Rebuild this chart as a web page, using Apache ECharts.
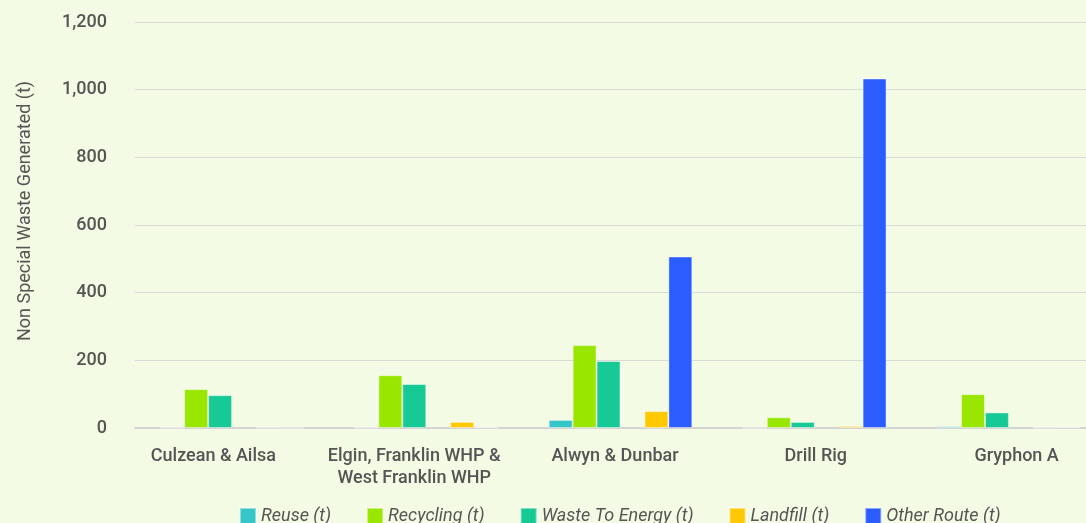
<!DOCTYPE html>
<html><head><meta charset="utf-8">
<script src="https://cdn.jsdelivr.net/npm/echarts@6/dist/echarts.min.js"></script>
<style>html,body{margin:0;padding:0;background:#f3fbe4;}#c{width:1086px;height:523px;}</style>
</head><body><div id="c"></div>
<script>
const categories = ['Culzean & Ailsa', 'Elgin, Franklin WHP & West Franklin WHP', 'Alwyn & Dunbar', 'Drill Rig', 'Gryphon A'];
const reuse = [1, 1, 24, 0, 5];
const recycling = [115, 156, 245, 32, 100];
const wasteToEnergy = [97, 130, 198, 18, 46];
const spacer = [null, null, null, null, null];
const landfill = [1, 18, 50, 6, 1];
const otherRoute = [0, 2, 507, 1033, 2];
const yTicks = [0, 200, 400, 600, 800, 1000, 1200];

const font = 'Roboto, "Noto Sans", sans-serif';
const txt = '#555555';
function bar(name, data, color) {
  return { name, type: 'bar', data, xAxisIndex: 0, yAxisIndex: 0,
    barGap: '0%', barCategoryGap: '26%',
    itemStyle: { color, borderColor: 'rgba(255,255,255,0.45)', borderWidth: 1 } };
}
const chart = echarts.init(document.getElementById('c'));
chart.setOption({
  backgroundColor: '#f3fbe4',
  animation: false,
  textStyle: { fontFamily: font },
  grid: [
    { left: 135, width: 971, top: 22, bottom: 95, outerBoundsMode: 'none', containLabel: false },
    { left: 113, width: 1004, top: 22, bottom: 95, outerBoundsMode: 'none', containLabel: false }
  ],
  legend: {
    left: 234, top: 502, itemWidth: 16, itemHeight: 16, itemGap: 35,
    icon: 'rect',
    data: ['Reuse (t)', 'Recycling (t)', 'Waste To Energy (t)', 'Landfill (t)', 'Other Route (t)'],
    textStyle: { color: txt, fontSize: 18, fontStyle: 'italic', fontFamily: font }
  },
  xAxis: [
    { type: 'category', gridIndex: 0, data: categories,
      axisLine: { lineStyle: { color: '#d4d4d4', width: 2 } },
      axisTick: { show: false }, axisLabel: { show: false } },
    { type: 'category', gridIndex: 1, data: categories,
      axisLine: { show: false }, axisTick: { show: false },
      axisLabel: { color: txt, fontSize: 18, fontWeight: 500, margin: 17, lineHeight: 22, interval: 0,
        formatter: v => v.replace(' & West', ' &\nWest') } }
  ],
  yAxis: [
    { type: 'value', gridIndex: 0, min: yTicks[0], max: yTicks[yTicks.length - 1], interval: 200,
      name: 'Non Special Waste Generated (t)', nameLocation: 'middle', nameGap: 101, nameRotate: 90,
      nameTextStyle: { color: txt, fontSize: 18, fontFamily: font, padding: [0, 0, 0, 28] },
      axisLine: { show: false }, axisTick: { show: false },
      splitLine: { lineStyle: { color: '#d9d9d9', width: 1 } },
      axisLabel: { color: txt, fontSize: 18, fontWeight: 500, margin: 28,
        formatter: v => v.toLocaleString('en-US') } },
    { type: 'value', gridIndex: 1, min: 0, max: 1200, show: false }
  ],
  series: [
    bar('Reuse (t)', reuse, '#35c7c8'),
    bar('Recycling (t)', recycling, '#99e600'),
    bar('Waste To Energy (t)', wasteToEnergy, '#17c994'),
    bar('', spacer, '#000000'),
    bar('Landfill (t)', landfill, '#ffc800'),
    bar('Other Route (t)', otherRoute, '#2b5cff')
  ]
});
</script></body></html>
